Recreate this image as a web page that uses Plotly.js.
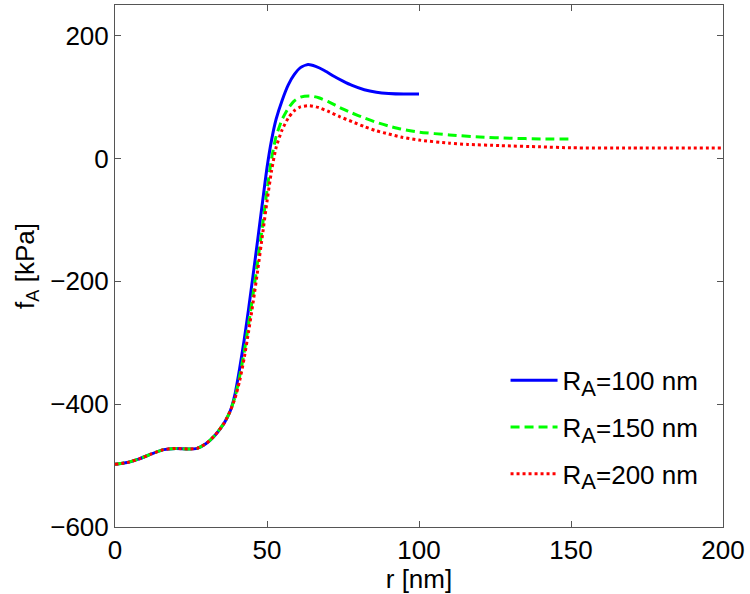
<!DOCTYPE html>
<html>
<head>
<meta charset="utf-8">
<script src="https://cdn.plot.ly/plotly-3.0.1.min.js"></script>
<style>html,body{margin:0;padding:0;background:#fff;}</style>
</head>
<body>
<div id="chart" style="width:750px;height:594px;"></div>
<script>
// Shared initial segment (all three curves coincide)
const commonR = [0, 4, 8, 12, 16, 20, 24, 27, 30, 33, 36, 38];
const commonF = [-498, -495, -489, -481, -474, -472, -473, -472, -464, -450, -430, -410];

// R_A = 100 nm
const blueR = [39.5, 41, 42.5, 44, 45.5, 47, 48.5, 50, 51.5, 53, 55, 57, 59, 61, 63.5, 66, 69, 72, 75, 78, 82, 86, 90, 95, 100];
const blueF = [-383, -342, -295, -243, -187, -130, -72, -15, 30, 64, 95, 120, 137, 148, 153, 150, 143, 134, 126, 119, 112, 108, 106, 105, 105];

// R_A = 150 nm
const greenR = [39.5, 41, 42.5, 44, 45.5, 47, 48.5, 50, 51.5, 53, 55, 57, 59, 61, 64, 67, 70, 74, 78, 82, 86, 90, 94, 100, 110, 120, 130, 140, 150];
const greenF = [-388, -355, -315, -268, -218, -165, -110, -52, 0, 36, 64, 82, 94, 100, 102, 99, 93, 83, 74, 66, 59, 53, 48, 43, 38.5, 35, 33, 32, 32];

// R_A = 200 nm
const redR = [39.5, 41, 42.5, 44, 45.5, 47, 48.5, 50, 51.5, 53, 55, 57, 59, 61, 64, 67, 70, 74, 78, 82, 86, 90, 94, 100, 110, 116, 127, 140, 150, 170, 200];
const redF = [-390, -362, -325, -280, -232, -180, -125, -70, -20, 18, 47, 66, 78, 84, 86, 83, 77, 68, 60, 52, 45, 40, 35, 30, 25, 23, 21, 19, 17.5, 17, 17];

const sub = '<sub><span style="font-size:22px">A</span></sub>';
const names = ['R' + sub + '=100 nm', 'R' + sub + '=150 nm', 'R' + sub + '=200 nm'];
const xTicks = [0, 50, 100, 150, 200];
const yTicks = [-600, -400, -200, 0, 200];

const fontFam = 'Liberation Sans, Arial, sans-serif';

const traces = [
  {x: commonR.concat(blueR), y: commonF.concat(blueF), name: names[0], legendgroup: 'a', mode: 'lines',
   line: {color: '#0000ff', width: 3, shape: 'spline', smoothing: 0.6}},
  {x: commonR.concat(greenR), y: commonF.concat(greenF), name: names[1], legendgroup: 'b', mode: 'lines',
   line: {color: '#00ff00', width: 3, dash: '9px,5px', shape: 'spline', smoothing: 0.6}},
  {x: commonR.concat(redR), y: commonF.concat(redF), name: names[2], legendgroup: 'c', mode: 'lines',
   line: {color: '#ff0000', width: 3, dash: '3px,3px', shape: 'spline', smoothing: 0.6}}
];

const axisCommon = {
  showline: true, mirror: 'ticks', linecolor: '#555', linewidth: 1,
  ticks: 'inside', ticklen: 6, tickcolor: '#555', tickwidth: 1,
  showgrid: false, zeroline: false,
  tickfont: {family: fontFam, size: 26, color: '#000'}
};

const layout = {
  width: 750, height: 594,
  margin: {l: 115, r: 27, t: 5, b: 67},
  paper_bgcolor: '#fff', plot_bgcolor: '#fff',
  font: {family: fontFam, size: 26, color: '#000'},
  xaxis: Object.assign({}, axisCommon, {
    range: [0, 200], tickvals: xTicks, ticktext: xTicks.map(String),
    title: {text: 'r [nm]', font: {family: fontFam, size: 26}, standoff: 0}
  }),
  yaxis: Object.assign({}, axisCommon, {
    range: [-600, 250], tickvals: yTicks,
    title: {text: 'f<sub>A</sub> [kPa]', font: {family: fontFam, size: 26}, standoff: 8}
  }),
  showlegend: true,
  legend: {
    x: 0.968, xanchor: 'right', y: 0.326, yanchor: 'top',
    traceorder: 'grouped', tracegroupgap: 10, itemwidth: 47,
    bgcolor: 'rgba(0,0,0,0)', borderwidth: 0,
    font: {family: fontFam, size: 26, color: '#000'}
  }
};

Plotly.newPlot('chart', traces, layout, {displayModeBar: false, staticPlot: true});
</script>
</body>
</html>
